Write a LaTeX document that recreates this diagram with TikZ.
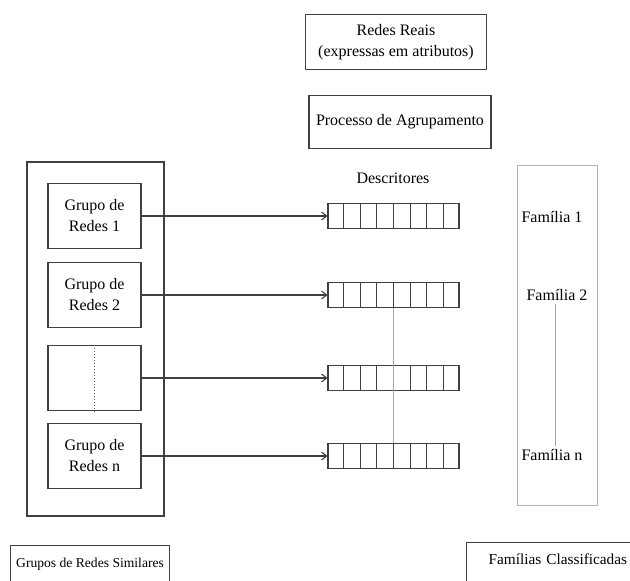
\documentclass[tikz,border=0pt]{standalone}
\usepackage{fontspec}
\setmainfont{Liberation Serif}
\usepackage{tikz}
\usetikzlibrary{arrows.meta,calc}

\begin{document}
\begin{tikzpicture}[x=1pt,y=-1pt,
    every node/.style={font=\fontsize{16}{21}\selectfont},
    caixa/.style={draw=black!75, line width=1.1pt, align=center},
    grupo/.style={caixa, minimum width=93pt, minimum height=65pt},
    descritor/.style={draw=black!75, line width=1.1pt, minimum width=131pt, minimum height=25pt, inner sep=0pt},
    seta/.style={draw=black!75, line width=1.1pt, -{Straight Barb[length=5pt,width=8pt]}},
    fina/.style={draw=black!35, line width=0.8pt}]
                        \useasboundingbox (0,0) rectangle (630,581);
                        \clip (0,0) rectangle (630,581);
                        % topo
                        \node [caixa, minimum width=181pt, minimum height=55pt] (reais) at (396,42) {Redes Reais\\(expressas em atributos)};
                        \node [caixa, minimum width=182pt, minimum height=53pt] (processo) at (400,122) {Processo de Agrupamento};
                        % grupos de redes
                        \draw [draw=black!75, line width=1.1pt] (27,162) rectangle (164,516);
                        \node [grupo] (g1) at (94.5,216) {Grupo de\\Redes 1};
                        \node [grupo] (g2) at (94.5,295) {Grupo de\\Redes 2};
                        \node [grupo] (g3) at (94.5,378) {};
                        \node [grupo] (g4) at (94.5,456) {Grupo de\\Redes n};
                        \draw [draw=black!60, line width=1pt, dotted] (g3.north) -- (g3.south);
                        % descritores
                        \node (descritores) at (393,178) {Descritores};
                        \foreach \i/\y in {1/216,2/295,3/378,4/456}
                        {
                            \node [descritor] (d\i) at (393.5,\y) {};
                            \foreach \k in {1,...,7}
                                \draw [draw=black!75, line width=1pt] ($(d\i.north west)!\k/8!(d\i.north east)$) -- ($(d\i.south west)!\k/8!(d\i.south east)$);
                            \draw [seta] (g\i.east) -- (d\i.west);
                        }
                        \draw [fina] ($(d2.south west)!4/8!(d2.south east)$) -- ($(d4.north west)!4/8!(d4.north east)$);
                        % familias
                        \draw [draw=black!30, line width=1pt] (517,165) rectangle (597,505);
                        \node (f1) at (552,217) {Família 1};
                        \node (f2) at (557,295) {Família 2};
                        \node (fn) at (552,455) {Família n};
                        \draw [fina] ([xshift=-2pt]f2.south) -- ([xshift=-2pt]f2.south |- fn.north);
                        % legendas
                        \node [caixa, anchor=north west, minimum width=159pt, text height=19pt, text depth=40pt, font=\fontsize{13.6}{16}\selectfont] (similares) at (10,545) {Grupos de Redes Similares};
                        \node [caixa, anchor=north west, minimum width=180pt, text height=19pt, text depth=40pt, text width=160pt, align=left, inner xsep=4pt, font=\fontsize{15.3}{19}\selectfont] (classificadas) at (466,542) {\hspace*{12pt}Famílias Classificadas};
                    \end{tikzpicture}
\end{document}
